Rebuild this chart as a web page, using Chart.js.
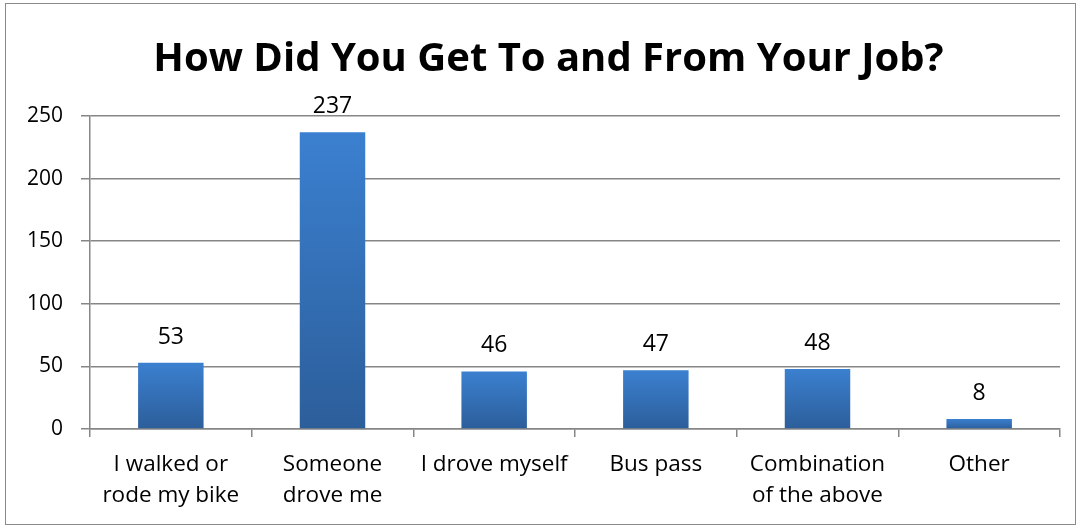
<!DOCTYPE html>
<html><head><meta charset="utf-8">
<script src="https://cdn.jsdelivr.net/npm/chart.js@4"></script>
<style>
html,body{margin:0;padding:0;background:#fff;}
#wrap{position:relative;width:1081px;height:529px;}
#frame{position:absolute;left:5px;top:3px;width:1071px;height:522px;border:1.5px solid #8a8a8a;box-sizing:border-box;pointer-events:none;}
</style></head>
<body>
<div id="wrap"><canvas id="c" width="1081" height="529"></canvas><div id="frame"></div></div>
<script>
const categories = [["I walked or","rode my bike"],["Someone","drove me"],["I drove myself"],["Bus pass"],["Combination","of the above"],["Other"]];
const values = [53, 237, 46, 47, 48, 8];
const yTicks = [0, 50, 100, 150, 200, 250];
const titleText = "How Did You Get To and From Your Job?";

const FONT = "'Open Sans', Lato, sans-serif";

const labelPlugin = {
  id: 'valueLabels',
  afterLayout(chart) {
    if (chart.titleBlock) {
      chart.titleBlock.left += 37;
      chart.titleBlock.width = chart.titleBlock.right - chart.titleBlock.left;
    }
  },
  afterDatasetsDraw(chart) {
    const ctx = chart.ctx;
    const meta = chart.getDatasetMeta(0);
    ctx.save();
    ctx.font = "23px " + FONT;
    ctx.fillStyle = "#000";
    ctx.textAlign = "center";
    ctx.textBaseline = "alphabetic";
    meta.data.forEach((bar, i) => {
      ctx.fillText(String(values[i]), bar.x, bar.y - 19);
    });
    ctx.restore();
  }
};

function barFill(context) {
  const chart = context.chart;
  const ys = chart.scales && chart.scales.y;
  if (!ys || !chart.chartArea || context.raw === undefined) return '#3573bb';
  const top = ys.getPixelForValue(context.raw);
  const bot = ys.getPixelForValue(0);
  if (!isFinite(top) || !isFinite(bot) || top === bot) return '#3573bb';
  const g = chart.ctx.createLinearGradient(0, top, 0, bot);
  g.addColorStop(0, '#3b80d0');
  g.addColorStop(1, '#2c5e9a');
  return g;
}

new Chart(document.getElementById('c'), {
  type: 'bar',
  data: {
    labels: categories,
    datasets: [{
      data: values,
      backgroundColor: barFill,
      borderWidth: 0,
      barPercentage: 0.405,
      categoryPercentage: 1.0
    }]
  },
  options: {
    responsive: false,
    animation: false,
    devicePixelRatio: 1,
    layout: { padding: { left: 0, right: 21, top: 0, bottom: 0 } },
    plugins: {
      legend: { display: false },
      tooltip: { enabled: false },
      title: {
        display: true,
        text: titleText,
        color: '#000',
        font: { family: FONT, size: 40, weight: 'bold', lineHeight: 1.2 },
        padding: { top: 36, bottom: 32 }
      }
    },
    scales: {
      x: {
        grid: { display: true, drawOnChartArea: false, offset: true, tickLength: 8, color: '#868686', lineWidth: 1.5 },
        border: { display: true, color: '#868686', width: 1.5 },
        ticks: { color: '#000', font: { family: FONT, size: 22.5, lineHeight: 1.39 }, maxRotation: 0, autoSkip: false, padding: 12 },
        afterFit(s) { s.height = 100; }
      },
      y: {
        min: 0, max: 250,
        afterBuildTicks(s) { s.ticks = yTicks.map(v => ({ value: v })); },
        grid: { color: '#868686', lineWidth: 1.5, tickLength: 9 },
        border: { display: true, color: '#868686', width: 1.5 },
        ticks: { color: '#000', font: { family: FONT, size: 21 }, padding: 18 },
        afterFit(s) { s.width = 90; }
      }
    }
  },
  plugins: [labelPlugin]
});
</script>
</body></html>
